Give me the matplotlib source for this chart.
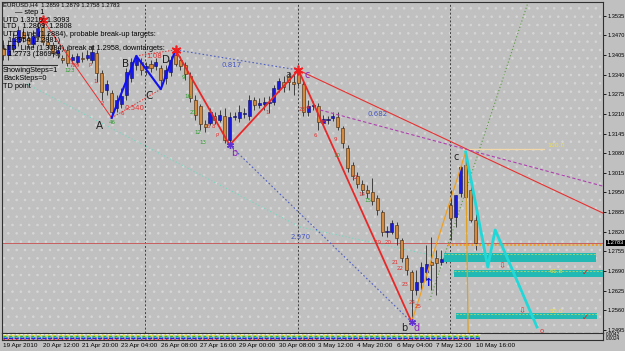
import matplotlib
matplotlib.use('Agg')
import numpy as np
import matplotlib.pyplot as plt
from matplotlib import font_manager
from matplotlib.patches import Rectangle
from matplotlib.transforms import blended_transform_factory

# EURUSD H4 candles, 19 Apr 2010 04:00 .. 10 May 2010 16:00
opens = [1.3428, 1.3405, 1.3428, 1.3448, 1.3481, 1.3461, 1.3441, 1.3468, 1.3498, 1.3448,
         1.3438, 1.3412, 1.3395, 1.3422, 1.3388, 1.3382, 1.3395, 1.3395, 1.3388, 1.3412,
         1.3345, 1.3289, 1.3279, 1.3230, 1.3243, 1.3273, 1.3329, 1.3372, 1.3382, 1.3362,
         1.3375, 1.3369, 1.3362, 1.3329, 1.3349, 1.3405, 1.3388, 1.3372, 1.3336, 1.3256,
         1.3236, 1.3177, 1.3180, 1.3203, 1.3190, 1.3203, 1.3124, 1.3200, 1.3197, 1.3210,
         1.3203, 1.3256, 1.3240, 1.3243, 1.3246, 1.3249, 1.3292, 1.3316, 1.3336, 1.3316,
         1.3349, 1.3309, 1.3216, 1.3236, 1.3236, 1.3180, 1.3190, 1.3197, 1.3200, 1.3163,
         1.3097, 1.3041, 1.3005, 1.2978, 1.2958, 1.2952, 1.2932, 1.2885, 1.2819, 1.2819,
         1.2842, 1.2793, 1.2733, 1.2687, 1.2627, 1.2654, 1.2687, 1.2720, 1.2733, 1.2720,
         1.2727, 1.2909, 1.2869, 1.2948, 1.3041, 1.2958, 1.2859]
highs = [1.3455, 1.3455, 1.3478, 1.3501, 1.3494, 1.3474, 1.3488, 1.3514, 1.3521, 1.3481,
         1.3448, 1.3435, 1.3405, 1.3435, 1.3408, 1.3412, 1.3415, 1.3422, 1.3438, 1.3422,
         1.3355, 1.3322, 1.3289, 1.3273, 1.3296, 1.3362, 1.3395, 1.3402, 1.3395, 1.3382,
         1.3388, 1.3395, 1.3372, 1.3372, 1.3402, 1.3422, 1.3402, 1.3382, 1.3349, 1.3273,
         1.3243, 1.3190, 1.3230, 1.3216, 1.3223, 1.3230, 1.3216, 1.3216, 1.3240, 1.3230,
         1.3273, 1.3266, 1.3263, 1.3266, 1.3269, 1.3306, 1.3329, 1.3336, 1.3349, 1.3342,
         1.3355, 1.3322, 1.3256, 1.3253, 1.3246, 1.3206, 1.3203, 1.3216, 1.3216, 1.3170,
         1.3107, 1.3051, 1.3018, 1.2991, 1.2975, 1.2998, 1.2942, 1.2892, 1.2839, 1.2859,
         1.2852, 1.2799, 1.2743, 1.2694, 1.2694, 1.2720, 1.2776, 1.2803, 1.2760, 1.2760,
         1.2743, 1.2958, 1.2942, 1.3041, 1.3084, 1.2991, 1.2879]
lows = [1.3388, 1.3388, 1.3415, 1.3435, 1.3448, 1.3428, 1.3428, 1.3455, 1.3438, 1.3428,
        1.3398, 1.3395, 1.3379, 1.3369, 1.3379, 1.3375, 1.3382, 1.3388, 1.3379, 1.3316,
        1.3256, 1.3273, 1.3197, 1.3216, 1.3230, 1.3256, 1.3316, 1.3355, 1.3339, 1.3339,
        1.3349, 1.3355, 1.3292, 1.3309, 1.3336, 1.3369, 1.3355, 1.3322, 1.3249, 1.3190,
        1.3157, 1.3150, 1.3173, 1.3177, 1.3183, 1.3114, 1.3107, 1.3190, 1.3183, 1.3197,
        1.3190, 1.3223, 1.3230, 1.3223, 1.3213, 1.3240, 1.3283, 1.3283, 1.3289, 1.3273,
        1.3302, 1.3203, 1.3203, 1.3223, 1.3157, 1.3170, 1.3177, 1.3187, 1.3157, 1.3097,
        1.3018, 1.2991, 1.2965, 1.2942, 1.2932, 1.2909, 1.2876, 1.2806, 1.2803, 1.2813,
        1.2776, 1.2720, 1.2677, 1.2521, 1.2611, 1.2627, 1.2661, 1.2627, 1.2611, 1.2710,
        1.2717, 1.2793, 1.2836, 1.2935, 1.2925, 1.2852, 1.2758]
closes = [1.3405, 1.3438, 1.3461, 1.3488, 1.3461, 1.3441, 1.3468, 1.3494, 1.3448, 1.3438,
          1.3412, 1.3422, 1.3388, 1.3379, 1.3398, 1.3402, 1.3393, 1.3405, 1.3415, 1.3345,
          1.3283, 1.3309, 1.3216, 1.3256, 1.3269, 1.3349, 1.3382, 1.3395, 1.3355, 1.3369,
          1.3362, 1.3382, 1.3322, 1.3355, 1.3388, 1.3375, 1.3369, 1.3342, 1.3263, 1.3206,
          1.3177, 1.3167, 1.3216, 1.3190, 1.3206, 1.3124, 1.3200, 1.3203, 1.3216, 1.3213,
          1.3256, 1.3240, 1.3246, 1.3249, 1.3249, 1.3296, 1.3319, 1.3299, 1.3316, 1.3309,
          1.3312, 1.3216, 1.3236, 1.3240, 1.3183, 1.3193, 1.3193, 1.3203, 1.3167, 1.3114,
          1.3031, 1.3005, 1.2978, 1.2958, 1.2948, 1.2922, 1.2892, 1.2819, 1.2823, 1.2849,
          1.2799, 1.2733, 1.2694, 1.2627, 1.2654, 1.2703, 1.2713, 1.2710, 1.2717, 1.2730,
          1.2733, 1.2866, 1.2942, 1.3034, 1.2935, 1.2859, 1.2783]

price_ticks = [1.3535, 1.3470, 1.3405, 1.3340, 1.3275, 1.3210, 1.3145, 1.3080, 1.3015,
               1.2950, 1.2885, 1.2820, 1.2755, 1.2690, 1.2625, 1.2560, 1.2495]
date_bars = [0, 8, 16, 24, 32, 40, 48, 56, 64, 72, 80, 88, 96]
date_labels = ['19 Apr 2010', '20 Apr 12:00', '21 Apr 20:00', '23 Apr 04:00', '26 Apr 08:00',
               '27 Apr 16:00', '29 Apr 00:00', '30 Apr 08:00', '3 May 12:00', '4 May 20:00',
               '6 May 04:00', '7 May 12:00', '10 May 16:00']
week_bars = [29, 60, 91]

# pattern pivots (bar indices)
abcd_bars = [22, 27, 32, 35]          # A low, B high, C low, D high
zigzag_bars = [35, 46, 60, 83]        # D high, b low, c high, d low
# free trendlines: (bar, price) pairs
red_trend = [(60, 1.3355), (121.9, 1.2882)]
purple_trend = [(64.4, 1.3223), (121.9, 1.2971)]
cyan_dotted = [(4.4, 1.3312), (60.3, 1.2836), (89.8, 1.2733)]
green_dotted = [(86.7, 1.2594), (106.7, 1.3580)]
cyan_path = [(94, 1.3084), (98.5, 1.2703), (100, 1.2826), (108.5, 1.2505)]
orange_drop = [(94, 1.3084), (94.5, 1.2485)]
target_bands = [(89.5, 120.5, 1.2720, 1.2750), (91.6, 121.9, 1.2670, 1.2694), (92, 120.7, 1.2531, 1.2551)]
fibo_labels = [(110.7, 1.3104, '100.0'), (111.1, 1.2687, '61.8'), (111.1, 1.2557, '50.0')]
level_100 = 1.3094
level_orange = 1.2776

td_counts = [(18.6, 1.3316, '1', 'r'), (17.6, 1.3369, 'P', 'r'), (14.5, 1.3369, '789', 'r'),
             (13.5, 1.3355, '123', 'g'), (20.2, 1.3246, '2', 'r'), (22.1, 1.3183, '46', 'g'),
             (24.1, 1.3210, '6', 'r'), (36.5, 1.3332, '9', 'g'), (37.5, 1.3266, '16', 'g'),
             (38.5, 1.3216, '21', 'g'), (39.6, 1.3150, '12', 'g'), (40.6, 1.3117, '13', 'g'),
             (41.6, 1.3167, '6', 'r'), (42.6, 1.3167, '8', 'r'), (43.4, 1.3137, 'P', 'r'),
             (53.6, 1.3216, '1', 'r'), (60.7, 1.3223, '23', 'r'), (61.9, 1.3230, '4', 'r'),
             (63.4, 1.3140, '6', 'r'), (65.0, 1.3180, '78', 'r'), (67.4, 1.3124, '9', 'r'),
             (67.8, 1.3074, '10', 'g'), (71.5, 1.2998, '12', 'r'), (72.9, 1.2942, '14', 'r'),
             (74.1, 1.2925, '15', 'g'), (76.2, 1.2783, '19', 'r'), (78.2, 1.2783, '20', 'r'),
             (79.6, 1.2717, '21', 'r'), (80.7, 1.2700, '22', 'r'), (81.7, 1.2644, '23', 'r'),
             (83.1, 1.2587, '24', 'r'), (84.3, 1.2574, '25', 'r')]

opens = np.array(opens); highs = np.array(highs); lows = np.array(lows); closes = np.array(closes)
x = np.arange(len(opens))

installed = {f.name for f in font_manager.fontManager.ttflist}
narrow = 'Liberation Sans Narrow' if 'Liberation Sans Narrow' in installed else 'Liberation Sans'

bg = '#C0C0C0'
plt.rcParams['hatch.linewidth'] = 0.6
fig = plt.figure(figsize=(6.25, 3.51), dpi=100)
fig.patch.set_facecolor(bg)
ax = fig.add_axes([2/625, 18/351, 601/625, 331/351])
ax.set_facecolor(bg)
ax.set_xlim(-0.3, 121.93)
ax.set_ylim(1.24850, 1.35803)
ax.add_patch(Rectangle((0, 0), 1, 1, transform=ax.transAxes, facecolor='none',
                       edgecolor='#D6D6D6', hatch='..', lw=0, zorder=0))

for s in week_bars:
    ax.axvline(s - 0.2, color='#404040', lw=0.7, ls=(0, (2, 2)), zorder=1)

# candles
ax.vlines(x, lows, highs, color='#2a2a2a', lw=0.6, zorder=3)
up = closes > opens
bottoms = np.minimum(opens, closes)
heights = np.maximum(np.abs(closes - opens), 0.00008)
ax.bar(x[up], heights[up], bottom=bottoms[up], width=0.62, color='#1818E8',
       edgecolor='#10104a', lw=0.4, zorder=4)
ax.bar(x[~up], heights[~up], bottom=bottoms[~up], width=0.62, color='#D48A3E',
       edgecolor='#3a2410', lw=0.4, zorder=4)

# bid line and target levels
ax.axhline(closes[-1], color='#C86060', lw=0.7, zorder=2)
ax.plot([90.5, 121.9], [level_orange, level_orange], color='#F0A020', lw=1.4, ls=(0, (1, 1)), zorder=5)
ax.plot([93.5, 110], [level_100, level_100], color='#F2D8A8', lw=0.9, zorder=5)
for x0, x1, p0, p1 in target_bands:
    ax.add_patch(Rectangle((x0, p0), x1 - x0, p1 - p0, facecolor='#22B8B4', edgecolor='none',
                           hatch='..', zorder=5))
    ax.plot([x0, x1], [p1 - 0.0004, p1 - 0.0004], color='#C8E060', lw=0.5, ls=(0, (3, 2)), zorder=6)
for xi, p, t in fibo_labels:
    ax.text(xi, p, t, color='#F0E040', fontsize=4.5, va='center', ha='left', zorder=7)

# trendlines
ax.plot(*zip(*red_trend), color='#E83030', lw=0.8, zorder=6)
ax.plot(*zip(*purple_trend), color='#B040B0', lw=0.8, ls=(0, (3, 2)), zorder=6)
ax.plot(*zip(*cyan_dotted), color='#70D8C0', lw=0.8, ls=(0, (1, 2)), zorder=2)
ax.plot(*zip(*green_dotted), color='#5C9A40', lw=0.8, ls=(0, (1, 2)), zorder=2)
ax.plot([zigzag_bars[0], zigzag_bars[2]], [highs[zigzag_bars[0]], highs[zigzag_bars[2]]],
        color='#5060C0', lw=0.8, ls=(0, (1.5, 2)), zorder=6)
ax.plot([zigzag_bars[1], zigzag_bars[3]], [lows[zigzag_bars[1]], lows[zigzag_bars[3]]],
        color='#5060C0', lw=0.8, ls=(0, (1.5, 2)), zorder=6)
ax.plot([8, 22], [highs[8], lows[22]], color='#E83030', lw=0.7, zorder=6)

# ABCD pattern
a, b, c, d = abcd_bars
ax.plot([a, b, c, d], [lows[a], highs[b], lows[c], highs[d]], color='#1010F0', lw=1.5, zorder=7)
ax.plot([a, c], [lows[a], lows[c]], color='#E83030', lw=0.7, ls=(0, (1.5, 1.5)), zorder=6)
ax.plot([b, d], [highs[b], highs[d]], color='#E83030', lw=0.7, ls=(0, (1.5, 1.5)), zorder=6)

# zigzag
z = zigzag_bars
ax.plot(z, [highs[z[0]], lows[z[1]], highs[z[2]], lows[z[3]]], color='#E82828', lw=1.3, zorder=7)
ax.plot([z[3], 94], [lows[z[3]], highs[94]], color='#F0A020', lw=0.9, zorder=7)
ax.plot(*zip(*orange_drop), color='#E0A020', lw=0.9, zorder=7)
ax.plot(*zip(*cyan_path), color='#20D8D8', lw=2.0, zorder=8)

# pivot stars
ax.plot([8, d, z[2]], [highs[8], highs[d], highs[z[2]]], ls='none', marker=(6, 2, 0),
        color='#F02020', ms=7, mew=1.2, zorder=8)
ax.plot([z[1], z[3]], [lows[z[1]], lows[z[3]]], ls='none', marker=(6, 2, 0),
        color='#6030D0', ms=5, mew=1, zorder=8)

# letters and ratios
for xi, p, t, col, fs in [(19.6, 1.3170, 'A', '#202020', 7.5), (24.9, 1.3375, 'B', '#202020', 7.5),
                          (29.6, 1.3269, 'C', '#202020', 7.5), (33.1, 1.3388, 'D', '#202020', 7.5),
                          (46.9, 1.3081, 'b', '#9020C0', 7), (57.9, 1.3339, 'a', '#404040', 7),
                          (61.7, 1.3339, 'c', '#9020C0', 7), (92.0, 1.3067, 'c', '#202020', 7),
                          (81.5, 1.2502, 'b', '#202020', 7), (84.0, 1.2502, 'd', '#9020C0', 7)]:
    ax.text(xi, p, t, color=col, fontsize=fs, ha='center', va='center', zorder=9)
for xi, p, t, col in [(44.4, 1.3372, '0.817', '#4858C0'), (74.1, 1.3210, '0.682', '#4858C0'),
                      (58.3, 1.2803, '2.970', '#4858C0'), (29.0, 1.3402, '1.08', '#E83030'),
                      (24.7, 1.3230, '0.540', '#E83030')]:
    ax.text(xi, p, t, color=col, fontsize=5, ha='left', va='center', zorder=9)
for xi, p, t, col in td_counts:
    ax.text(xi, p, t, color='#E03030' if col == 'r' else '#2E9A2E', fontsize=4,
            ha='center', va='center', zorder=9)
ax.text(86.4, 1.2651, '\u2191', color='#1010F0', fontsize=8, fontweight='bold',
        ha='center', va='center', zorder=9)
for xi, p in [(101.4, 1.2707), (105.5, 1.2558)]:
    ax.text(xi, p, '\u21e9', color='#E03030', fontsize=6, ha='center', va='center', zorder=9)
for xi, p in [(118.3, 1.2687), (118.3, 1.2538)]:
    ax.text(xi, p, '\u2713', color='#E02020', fontsize=6, ha='center', va='center', zorder=9)
ax.text(109.5, 1.2490, 'o', color='#E03030', fontsize=5, ha='center', va='center', zorder=9)

# right price axis
ax.yaxis.tick_right()
ax.set_yticks(price_ticks)
ax.set_yticklabels(['%.4f' % p for p in price_ticks], fontfamily=narrow)
ax.tick_params(axis='y', direction='out', length=2, width=0.6, labelsize=4.1, pad=1.0, colors='black')
ax.set_xticks([])
for sp in ax.spines.values():
    sp.set_color('#303030')
    sp.set_linewidth(0.8)
ax.text(1.0 + 4/601, closes[-1], '%.4f' % closes[-1], transform=blended_transform_factory(ax.transAxes, ax.transData),
        color='white', fontsize=4.1, fontfamily=narrow, va='center', ha='left',
        bbox=dict(facecolor='black', edgecolor='none', pad=0.5), zorder=10)

# indicator strip
ax2 = fig.add_axes([2/625, 11/351, 601/625, 7/351])
ax2.set_facecolor(bg)
ax2.set_xlim(ax.get_xlim())
ax2.set_ylim(0, 1)
ax2.set_xticks([]); ax2.set_yticks([])
for sp in ax2.spines.values():
    sp.set_color('#303030'); sp.set_linewidth(0.8)
for yy, col, dash in [(0.85, '#F8F8F8', (2, 1)), (0.7, '#E8E040', (3, 2)), (0.55, '#30B030', (2, 2)),
                      (0.4, '#20C0C0', (1, 1)), (0.25, '#2020E0', (3, 1)), (0.15, '#E03030', (1, 2))]:
    ax2.plot([0, 97], [yy, yy], color=col, lw=1.0, ls=(0, dash))
fig.text(606/625, 1 - 335/351, '0.0042', fontsize=3.4, fontfamily=narrow, va='center', ha='left')
fig.text(606/625, 1 - 339/351, '0.0024', fontsize=3.4, fontfamily=narrow, va='center', ha='left')

# date labels
tr = blended_transform_factory(ax.transData, fig.transFigure)
for i, lab in zip(date_bars, date_labels):
    ax.text(i, 1 - 346/351, lab, transform=tr, fontsize=4.6, fontfamily=narrow,
            ha='left', va='center', clip_on=False)

# info block top-left
fig.text(3/625, 1 - 5/351, 'EURUSD,H4  1.2859 1.2879 1.2758 1.2783', fontsize=4.3,
         fontfamily='Liberation Sans', color='black', va='center', ha='left', zorder=20)
info = [(15, 12, '\u2014 step 1'),
        (3, 20, 'UTD 1.3210: 1.3093'), (3, 27, 'LTD   1.2809: 1.2808'),
        (3, 34, 'UTD_Line (1.2884), probable break-up targets:'), (8, 41, '1.2954 (1.2881)'),
        (3, 48, 'LTD_Line (1.3084), break at 1.2958, downtargets:'), (8, 55, '1.2773 (1869%)'),
        (3, 71, 'ShowingSteps=1'), (3, 78, 'BackSteps=0'), (3, 86, 'TD point')]
for px, py, t in info:
    fig.text(px/625, 1 - py/351, t, fontsize=5.3, fontfamily='Liberation Sans', color='black',
             va='center', ha='left', zorder=20)
fig.add_artist(plt.Line2D([2/625, 57/625], [1 - 65/351, 1 - 65/351], color='#303030', lw=0.8))

fig.savefig('out.png', dpi=100, facecolor=bg)
